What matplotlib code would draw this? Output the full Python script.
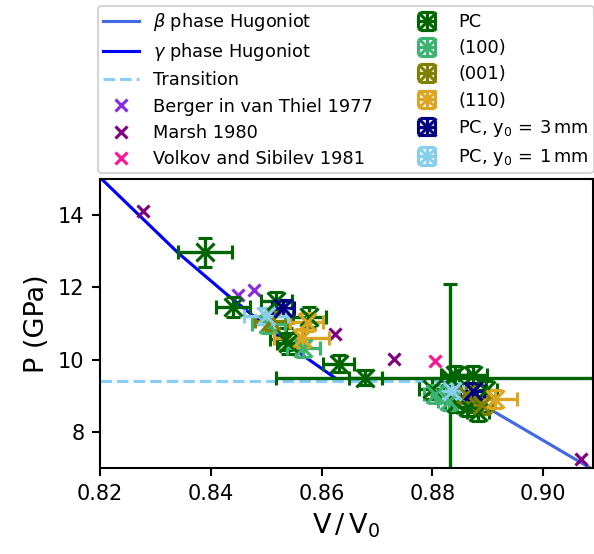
import numpy as np
import matplotlib
matplotlib.use("Agg")
import matplotlib.pyplot as plt

# Hugoniot curves
gamma_v = [0.8180, 0.8205, 0.8342, 0.8427, 0.8500, 0.8567, 0.8633]
gamma_p = [15.30, 14.97, 12.94, 11.83, 10.92, 10.11, 9.40]
beta_v = [0.8818, 0.8927, 0.9085, 0.9130]
beta_p = [9.40, 8.42, 7.00, 6.60]
trans_p = 9.4
trans_v = [0.82, 0.8818]

# literature points
berger_v = [0.8449, 0.8478]
berger_p = [11.78, 11.92]
marsh_v = [0.8278, 0.8624, 0.8731, 0.9069]
marsh_p = [14.12, 10.72, 10.03, 7.25]
volkov_v = [0.8805]
volkov_p = [9.97]

# this work
pc_v = [0.8390, 0.8440, 0.8518, 0.8578, 0.8536, 0.8540, 0.8631, 0.8679,
        0.8831, 0.8800, 0.8840, 0.8873, 0.8896, 0.8864, 0.8882, 0.8842]
pc_p = [12.97, 11.45, 11.62, 11.17, 10.58, 10.45, 9.89, 9.50,
        9.50, 9.20, 9.58, 9.58, 9.15, 8.68, 8.55, 8.80]
pc_xerr = [0.0049, 0.003, 0.0028, 0.003, 0.003, 0.002, 0.0028, 0.003,
           0.0313, 0.0025, 0.0025, 0.0025, 0.002, 0.002, 0.002, 0.002]
pc_yerr = [0.40, 0.28, 0.25, 0.28, 0.30, 0.30, 0.23, 0.20,
           2.58, 0.30, 0.25, 0.25, 0.25, 0.25, 0.25, 0.25]

s100_v = [0.8504, 0.8567, 0.8805, 0.8830]
s100_p = [11.00, 10.33, 9.06, 8.85]
s100_xerr = [0.003, 0.003, 0.002, 0.002]
s100_yerr = [0.25, 0.25, 0.25, 0.25]

s001_v = [0.8509, 0.8860, 0.8890]
s001_p = [11.08, 9.05, 8.75]
s001_xerr = [0.003, 0.002, 0.002]
s001_yerr = [0.25, 0.25, 0.25]

s110_v = [0.8573, 0.8564, 0.8913]
s110_p = [11.03, 10.60, 8.90]
s110_xerr = [0.003, 0.005, 0.004]
s110_yerr = [0.25, 0.25, 0.25]

y3_v = [0.8531, 0.8873]
y3_p = [11.42, 9.14]
y3_xerr = [0.002, 0.002]
y3_yerr = [0.22, 0.22]

y1_v = [0.8500, 0.8836]
y1_p = [11.22, 9.14]
y1_xerr = [0.004, 0.002]
y1_yerr = [0.22, 0.22]

fig = plt.figure(figsize=(5.94 / 1.5, 5.54 / 1.5), dpi=150)
ax = fig.add_axes([100 / 594, 86 / 554, 493 / 594, 289 / 554])

ax.plot(beta_v, beta_p, color='royalblue', lw=1.5, label=r'$\beta$ phase Hugoniot')
ax.plot(gamma_v, gamma_p, color='blue', lw=1.5, label=r'$\gamma$ phase Hugoniot')
ax.plot(trans_v, [trans_p, trans_p], color='lightskyblue', lw=1.5, ls='--',
        label='Transition')

mk = dict(ls='none', marker='x', ms=6, mew=1.5)
ax.plot(berger_v, berger_p, color='blueviolet', label='Berger in van Thiel 1977', **mk)
ax.plot(marsh_v, marsh_p, color='purple', label='Marsh 1980', **mk)
ax.plot(volkov_v, volkov_p, color='deeppink', label='Volkov and Sibilev 1981', **mk)

eb = dict(fmt='x', ms=8.5, mew=1.5, elinewidth=1.6, capsize=3.5, capthick=1.6)
ax.errorbar(pc_v, pc_p, xerr=pc_xerr, yerr=pc_yerr, color='darkgreen', label='PC', **eb)
ax.errorbar(s100_v, s100_p, xerr=s100_xerr, yerr=s100_yerr, color='mediumseagreen',
            label='(100)', **eb)
ax.errorbar(s001_v, s001_p, xerr=s001_xerr, yerr=s001_yerr, color='olive',
            label='(001)', **eb)
ax.errorbar(s110_v, s110_p, xerr=s110_xerr, yerr=s110_yerr, color='goldenrod',
            label='(110)', **eb)
ax.errorbar(y3_v, y3_p, xerr=y3_xerr, yerr=y3_yerr, color='navy',
            label=r'PC, $\mathrm{y_0\,=\,3\,mm}$', **eb)
ax.errorbar(y1_v, y1_p, xerr=y1_xerr, yerr=y1_yerr, color='skyblue',
            label=r'PC, $\mathrm{y_0\,=\,1\,mm}$', **eb)

ax.set_xlim(0.82, 0.909)
ax.set_ylim(7, 15)
ax.set_xticks([0.82, 0.84, 0.86, 0.88, 0.90])
ax.set_yticks([8, 10, 12, 14])
ax.set_xlabel(r'$\mathrm{V\,/\,V_0}$', fontsize=13)
ax.set_ylabel('P (GPa)', fontsize=13)
ax.tick_params(labelsize=10, width=1, length=4)
for s in ax.spines.values():
    s.set_linewidth(1)

ax.legend(loc='lower left', bbox_to_anchor=(-0.004, 1.02, 1.006, 0.59),
          mode='expand', ncol=2, fontsize=8.5, borderaxespad=0, borderpad=0.3,
          labelspacing=0.46)

fig.savefig('out.png', dpi=150)
